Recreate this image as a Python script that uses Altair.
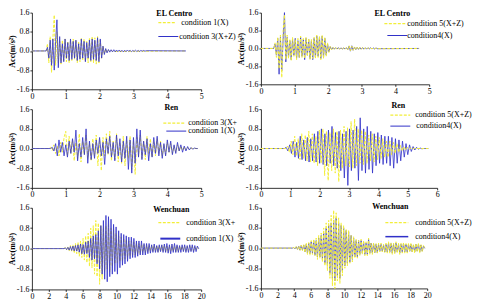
import altair as alt
import pandas as pd

FONT = "Liberation Serif"
YELLOW = "#f2ee38"
BLUE = "#3030c8"

# ---------------- data (acceleration, m/s^2) ----------------
# EL Centro, left: condition 1(X) yellow, condition 3(X+Z) blue
ec_l_t0, ec_l_dt, ec_l_end = 0.42, 0.04, 4.55
ec_l_yellow = [0.0, 0.3, -0.5, 0.6, -0.9, 0.5, 1.5, -0.6, 0.8, -0.5, 0.4, -0.55, 0.45, -0.4, 0.5, -0.45,
               0.4, -0.5, 0.45, -0.4, 0.5, -0.35, 0.45, -0.5, 0.4, -0.45, 0.55, -0.4, 0.5, -0.45, 0.4, -0.5,
               0.55, -0.45, 0.6, -0.5, 0.55, -0.55, 0.6, -0.5, 0.45, -0.3, 0.2, -0.12, 0.08, -0.05, 0.04,
               -0.03, 0.03, -0.02]
ec_l_blue = [0.0, 0.15, -0.3, 0.45, -0.6, 0.5, -0.8, 0.4, 1.3, -0.7, 0.6, -0.5, 0.3, -0.45, 0.5, -0.3, 0.35,
             -0.4, 0.5, -0.35, 0.4, -0.3, 0.45, -0.4, 0.3, -0.35, 0.5, -0.3, 0.4, -0.45, 0.35, -0.3, 0.45,
             -0.4, 0.5, -0.35, 0.45, -0.4, 0.55, -0.45, 0.5, -0.3, 0.2, -0.15, 0.1, -0.08, 0.06, -0.05, 0.05,
             -0.04, 0.05, -0.04, 0.04, -0.03, 0.04, -0.03, 0.03, -0.04, 0.03, -0.03, 0.04, -0.02, 0.03, -0.03,
             0.02, -0.02, 0.03, -0.02, 0.02, -0.02, 0.02, -0.01, 0.02, -0.01, 0.01]

# EL Centro, right: condition 5(X+Z) yellow, condition4(X) blue
ec_r_t0, ec_r_dt, ec_r_end = 0.38, 0.04, 4.7
ec_r_yellow = [0.0, 0.25, -0.4, 0.5, -0.9, 0.6, -1.3, 0.8, 1.5, -0.5, 0.6, -0.45, 0.4, -0.55, 0.5, -0.35, 0.4,
               -0.5, 0.45, -0.4, 0.55, -0.4, 0.45, -0.45, 0.5, -0.35, 0.45, -0.5, 0.4, -0.45, 0.5, -0.45, 0.6,
               -0.4, 0.55, -0.5, 0.6, -0.45, 0.5, -0.35, 0.25, -0.18, 0.1, -0.06, 0.05, -0.04, 0.04, -0.03,
               0.03, -0.03, 0.03, -0.02, 0.03, -0.03, 0.04, -0.06, 0.12, -0.1, 0.1, -0.08, 0.07, -0.06, 0.05,
               -0.05, 0.05, -0.04, 0.04, -0.03, 0.03, -0.03, 0.03, -0.02, 0.02, -0.02, 0.02, -0.02, 0.02, -0.01]
ec_r_blue = [0.0, 0.2, -0.3, 0.45, -1.15, 0.5, -1.0, 0.4, 1.6, -0.6, 0.5, -0.4, 0.35, -0.5, 0.4, -0.3, 0.45,
             -0.45, 0.35, -0.4, 0.5, -0.35, 0.4, -0.5, 0.45, -0.3, 0.4, -0.45, 0.35, -0.5, 0.45, -0.4, 0.55,
             -0.35, 0.5, -0.45, 0.55, -0.4, 0.45, -0.3, 0.2, -0.15, 0.08, -0.05, 0.04, -0.03, 0.03, -0.02,
             0.03, -0.02, 0.02, -0.02, 0.02, -0.02, 0.03, -0.05, 0.1, -0.12, 0.12, -0.08, 0.06, -0.05, 0.05,
             -0.04, 0.04, -0.03, 0.04, -0.03, 0.03, -0.03, 0.03, -0.02, 0.03, -0.02, 0.02, -0.02, 0.02, -0.01]

# Ren, left: condition 3(X+Z) yellow, condition 1(X) blue
ren_l_end = 4.9
ren_l_y_t0, ren_l_y_dt = 0.50, 0.05
ren_l_yellow = [0.0, 0.05, -0.08, 0.15, -0.2, 0.1, -0.3, 0.25, -0.15, 0.45, 0.7, -0.3, 0.5, -0.2, 0.35, -0.5,
                0.25, -0.4, 0.6, -0.55, 0.3, -0.25, 0.55, -0.4, 0.2, -0.5, 0.4, -0.3, 0.55, -0.7, 0.35, -0.9,
                0.45, -0.3, 0.6, -0.25, 0.7, -0.5, 0.3, -0.45, 0.6, -0.55, 0.25, -0.6, 0.5, -0.7, 0.35, -0.4,
                0.5, -0.85, 0.3, -1.05, 0.45, -0.3, 0.55, -0.4, 0.3, -0.45, 0.5, -0.2, 0.4, -0.35, 0.25,
                -0.3, 0.4, -0.2, 0.3, -0.3, 0.15, -0.25, 0.25, -0.15, 0.2, -0.2, 0.1, -0.15, 0.15, -0.1,
                0.1, -0.08, 0.07, -0.05, 0.04, -0.03, 0.02, 0.0]
ren_l_b_t0, ren_l_b_dt = 0.55, 0.05
ren_l_blue = [0.0, 0.05, -0.1, 0.2, -0.3, 0.35, -0.15, 0.25, -0.3, 0.15, -0.35, 0.3, -0.2, 0.4, -0.15, 0.75,
              -0.5, 0.2, -0.35, 0.45, -0.25, 0.8, -0.6, 0.3, -0.45, 0.2, -0.4, 0.35, -0.2, 0.45, -0.3, 0.25,
              -0.65, 0.4, -0.2, 0.5, -0.35, 0.25, -0.5, 0.55, -0.3, 0.4, -0.55, 0.3, -0.4, 0.5, -0.85, 0.35,
              -1.0, 0.45, -0.6, 0.8, -0.35, 0.75, -0.45, 0.3, -0.25, 0.4, -0.5, 0.2, -0.35, 0.45, -0.2, 0.5,
              -0.3, 0.25, -0.4, 0.2, -0.3, 0.35, -0.15, 0.3, -0.25, 0.15, -0.2, 0.25, -0.1, 0.15, -0.15, 0.1,
              -0.1, 0.08, -0.06, 0.04, -0.03, 0.02, 0.0]

# Ren, right: condition 5(X+Z) yellow, condition4(X) blue
ren_r_end = 5.7
ren_r_y_t0, ren_r_y_dt = 0.85, 0.06
ren_r_yellow = [0.0, 0.1, -0.15, 0.3, -0.25, 0.5, -0.3, 0.4, -0.45, 0.6, -0.4, 0.55, -0.5, 0.7, -0.55, 0.6,
                -0.6, 0.5, -0.7, 0.75, -0.6, 0.8, -1.1, 0.7, -1.3, 0.65, -0.9, 0.8, -1.0, 0.7, -1.35, 0.75,
                -0.8, 0.9, -0.7, 0.85, -0.75, 1.1, -0.8, 1.2, -0.7, 0.8, -0.6, 0.75, -0.65, 0.7, -0.6, 0.55,
                -0.5, 0.6, -0.55, 0.5, -0.45, 0.45, -0.4, 0.4, -0.35, 0.3, -0.35, 0.3, -0.25, 0.25, -0.2, 0.2,
                -0.15, 0.12, -0.1, 0.08, -0.06, 0.05, -0.04, 0.03, -0.02, 0.01, 0.0]
ren_r_b_t0, ren_r_b_dt = 0.80, 0.06
ren_r_blue = [0.0, 0.05, -0.1, 0.15, -0.2, 0.3, -0.35, 0.25, -0.4, 0.5, -0.45, 0.35, -0.5, 0.45, -0.55, 0.4,
              -0.5, 0.6, -0.55, 0.7, -0.6, 0.8, -0.65, 0.6, -0.7, 0.75, -0.6, 0.9, -0.7, 0.65, -0.8, 0.7, -0.9,
              0.6, -1.2, 0.7, -1.5, 0.8, -0.9, 0.75, -0.8, 0.9, -1.3, 1.25, -0.9, 0.8, -1.0, 0.9, -0.85, 0.7,
              -1.0, 0.6, -0.7, 0.65, -0.6, 0.55, -0.65, 0.5, -0.6, 0.5, -0.7, 0.45, -0.8, 0.4, -0.6, 0.35,
              -0.5, 0.3, -0.35, 0.2, -0.25, 0.15, -0.12, 0.08, -0.06, 0.05, -0.03, 0.02, -0.01, 0.0]

# Wenchuan, left: condition 3(X+Z) yellow, condition 1(X) blue
wc_t0, wc_dt, wc_end = 3.8, 0.15, 19.75
wc_l_yellow = [0.0, 0.04, -0.05, 0.08, -0.1, 0.12, -0.1, 0.15, -0.18, 0.2,
               -0.2, 0.25, -0.3, 0.3, -0.35, 0.4, -0.45, 0.5, -0.55, 0.6,
               -0.7, 0.8, -0.75, 0.9, -1.0, 1.1, -1.1, 1.0, -1.4, 0.9,
               -1.2, 0.8, -0.9, 0.9, -0.8, 1.0, -0.9, 0.8, -0.7, 0.75,
               -0.6, 0.6, -0.55, 0.5, -0.5, 0.45, -0.5, 0.4, -0.4, 0.35,
               -0.35, 0.3, -0.3, 0.3, -0.25, 0.25, -0.25, 0.2, -0.2, 0.2,
               -0.2, 0.18, -0.15, 0.15, -0.15, 0.12, -0.12, 0.12, -0.1, 0.12,
               -0.1, 0.12, -0.1, 0.1, -0.12, 0.1, -0.1, 0.12, -0.1, 0.12,
               -0.12, 0.1, -0.12, 0.1, -0.1, 0.12, -0.1, 0.1, -0.12, 0.1,
               -0.1, 0.1, -0.08, 0.1, -0.1, 0.08, -0.1, 0.08, -0.08, 0.1,
               -0.08, 0.08, -0.08, 0.06, -0.06, 0.05, 0.0]
wc_l_blue = [0.0, 0.03, -0.04, 0.05, -0.06, 0.08, -0.07, 0.1, -0.09, 0.12,
             -0.1, 0.15, -0.14, 0.18, -0.2, 0.16, -0.22, 0.25, -0.2, 0.3,
             -0.35, 0.4, -0.45, 0.5, -0.4, 0.55, -0.6, 0.7, -0.8, 0.9,
             -1.0, 1.1, -1.2, 1.3, -1.3, 1.25, -1.1, 1.15, -1.0, 0.95,
             -0.9, 0.85, -1.0, 0.7, -0.75, 0.6, -0.65, 0.55, -0.6, 0.5,
             -0.5, 0.45, -0.4, 0.45, -0.35, 0.4, -0.35, 0.3, -0.3, 0.3,
             -0.25, 0.3, -0.25, 0.2, -0.25, 0.2, -0.2, 0.2, -0.18, 0.15,
             -0.15, 0.18, -0.15, 0.12, -0.15, 0.15, -0.12, 0.15, -0.15, 0.18,
             -0.15, 0.2, -0.18, 0.15, -0.2, 0.18, -0.15, 0.2, -0.15, 0.15,
             -0.15, 0.12, -0.15, 0.15, -0.12, 0.15, -0.15, 0.12, -0.15, 0.15,
             -0.12, 0.15, -0.15, 0.12, -0.12, 0.1, 0.0]

# Wenchuan, right: condition 5(X+Z) yellow, condition4(X) blue
wc_r_yellow = [0.0, 0.03, -0.04, 0.06, -0.05, 0.08, -0.1, 0.12, -0.1, 0.15,
               -0.18, 0.2, -0.25, 0.22, -0.28, 0.3, -0.25, 0.35, -0.3, 0.4,
               -0.45, 0.5, -0.4, 0.6, -0.55, 0.8, -0.7, 1.0, -0.9, 1.1,
               -1.2, 1.3, -1.5, 1.5, -1.6, 1.4, -1.3, 1.2, -1.4, 1.0,
               -1.1, 0.9, -0.8, 0.75, -0.7, 0.7, -0.6, 0.5, -0.55, 0.45,
               -0.4, 0.35, -0.4, 0.3, -0.3, 0.35, -0.25, 0.3, -0.3, 0.25,
               -0.3, 0.4, -0.25, 0.2, -0.25, 0.2, -0.2, 0.18, -0.2, 0.2,
               -0.15, 0.2, -0.15, 0.15, -0.18, 0.2, -0.2, 0.25, -0.2, 0.22,
               -0.25, 0.2, -0.22, 0.25, -0.2, 0.2, -0.25, 0.2, -0.2, 0.22,
               -0.2, 0.18, -0.2, 0.2, -0.15, 0.2, -0.18, 0.15, -0.2, 0.18,
               -0.15, 0.2, -0.2, 0.15, -0.15, 0.1, 0.0]
wc_r_blue = [0.0, 0.02, -0.03, 0.05, -0.05, 0.07, -0.08, 0.1, -0.08, 0.12,
             -0.15, 0.15, -0.2, 0.2, -0.22, 0.25, -0.2, 0.3, -0.28, 0.3,
             -0.35, 0.4, -0.35, 0.5, -0.45, 0.6, -0.6, 0.8, -0.7, 0.9,
             -1.0, 1.0, -1.2, 1.1, -1.3, 1.2, -1.1, 1.0, -1.2, 0.9,
             -0.9, 0.8, -0.7, 0.7, -0.6, 0.65, -0.55, 0.5, -0.45, 0.4,
             -0.35, 0.3, -0.35, 0.3, -0.25, 0.3, -0.2, 0.25, -0.25, 0.2,
             -0.25, 0.35, -0.2, 0.2, -0.2, 0.18, -0.18, 0.15, -0.18, 0.15,
             -0.12, 0.15, -0.12, 0.12, -0.15, 0.15, -0.15, 0.2, -0.15, 0.18,
             -0.2, 0.15, -0.18, 0.2, -0.15, 0.15, -0.2, 0.15, -0.15, 0.18,
             -0.15, 0.15, -0.15, 0.15, -0.12, 0.15, -0.15, 0.12, -0.15, 0.15,
             -0.12, 0.15, -0.15, 0.12, -0.12, 0.08, 0.0]

Y_TICKS = [-1.6, -0.8, 0.0, 0.8, 1.6]
Y_LABEL_EXPR = "datum.value < 0 ? '-' + format(-datum.value, '.1f') : format(datum.value, '.1f')"


def series_df(t0, dt, vals, t_end):
    ts = [0.0] + [round(t0 + i * dt, 4) for i in range(len(vals))] + [t_end]
    vs = [0.0] + list(vals) + [0.0]
    return pd.DataFrame({"t": ts, "acc": vs})


ONE = pd.DataFrame({"k": [0]})


def panel(dfy, dfb, xmax, xstep, w, h, title, labels, leg, yellow_top, limit=0, blue_w=1.0):
    x = alt.X("t:Q", scale=alt.Scale(domain=[0, xmax], nice=False, zero=False),
              axis=alt.Axis(values=list(range(0, xmax + 1, xstep)), format="d", title=None))
    y = alt.Y("acc:Q", scale=alt.Scale(domain=[-1.6, 1.6], nice=False),
              axis=alt.Axis(values=Y_TICKS, labelExpr=Y_LABEL_EXPR, title="Acc(m/s²)"))
    yl = alt.Chart(dfy).mark_line(color=YELLOW, strokeDash=[3, 1.5], strokeWidth=1.0).encode(x=x, y=y)
    bl = alt.Chart(dfb).mark_line(color=BLUE, strokeWidth=0.8).encode(x=x, y=y)
    (tx, ty), (y1x1, y1x2, y1y, y1tx), (b1x1, b1x2, b1y, b1tx) = leg
    ttl = alt.Chart(ONE).mark_text(text=title, font=FONT, fontSize=8, fontWeight="bold",
                                   align="center", baseline="middle", color="black").encode(
        x=alt.value(tx), y=alt.value(ty))
    r1 = alt.Chart(ONE).mark_rule(color=YELLOW, strokeDash=[3, 1.5], strokeWidth=1.2).encode(
        x=alt.value(y1x1), x2=alt.value(y1x2), y=alt.value(y1y))
    r2 = alt.Chart(ONE).mark_rule(color=BLUE, strokeWidth=blue_w).encode(
        x=alt.value(b1x1), x2=alt.value(b1x2), y=alt.value(b1y))
    tkw = dict(font=FONT, fontSize=8, align="left", baseline="middle", color="black")
    if limit:
        tkw.update(limit=limit, ellipsis="\u200b")
    t1 = alt.Chart(ONE).mark_text(text=labels[0], **tkw).encode(x=alt.value(y1tx), y=alt.value(y1y))
    t2 = alt.Chart(ONE).mark_text(text=labels[1], **tkw).encode(x=alt.value(b1tx), y=alt.value(b1y))
    lines = [bl, yl] if yellow_top else [yl, bl]
    return alt.layer(*lines, ttl, r1, r2, t1, t2).properties(width=w, height=h)


p1 = panel(series_df(ec_l_t0, ec_l_dt, ec_l_yellow, ec_l_end), series_df(ec_l_t0, ec_l_dt, ec_l_blue, ec_l_end),
           5, 1, 170, 77, "EL Centro", ["condition 1(X)", "condition 3(X+Z)"],
           ((143, 1), (127, 145, 10, 150), (127, 147, 24, 148)), False, limit=60)
p2 = panel(series_df(ec_r_t0, ec_r_dt, ec_r_yellow, ec_r_end), series_df(ec_r_t0, ec_r_dt, ec_r_blue, ec_r_end),
           5, 1, 169, 72, "EL Centro", ["condition 5(X+Z)", "condition4(X)"],
           ((132, 1), (124, 145, 11, 147), (127, 147, 23, 147)), True)
p3 = panel(series_df(ren_l_y_t0, ren_l_y_dt, ren_l_yellow, ren_l_end),
           series_df(ren_l_b_t0, ren_l_b_dt, ren_l_blue, ren_l_end),
           5, 1, 170, 79, "Ren", ["condition 3(X+Z)", "condition 1(X)"],
           ((140, -1), (132, 154, 14, 157), (135, 155, 22, 157)), False, limit=50)
p4 = panel(series_df(ren_r_y_t0, ren_r_y_dt, ren_r_yellow, ren_r_end),
           series_df(ren_r_b_t0, ren_r_b_dt, ren_r_blue, ren_r_end),
           6, 1, 177, 79, "Ren", ["condition 5(X+Z)", "condition4(X)"],
           ((138, -3), (130, 150, 6, 155), (130, 150, 17, 156)), True)
p5 = panel(series_df(wc_t0, wc_dt, wc_l_yellow, wc_end), series_df(wc_t0, wc_dt, wc_l_blue, wc_end),
           20, 2, 170, 82, "Wenchuan", ["condition 3(X+Z)", "condition 1(X)"],
           ((140, 2), (127, 149, 15, 155), (129, 149, 31, 155)), False, limit=52, blue_w=2.0)
p6 = panel(series_df(wc_t0, wc_dt, wc_r_yellow, wc_end), series_df(wc_t0, wc_dt, wc_r_blue, wc_end),
           20, 2, 167, 81, "Wenchuan", ["condition 5(X+Z)", "condition4(X)"],
           ((130, -1), (125, 148, 15, 155), (125, 148, 29, 155)), True, blue_w=1.5)

chart = alt.concat(p1, p2, p3, p4, p5, p6, columns=2,
                   spacing=alt.RowColnumber(row=20, column=60),
                   bounds="flush", align="each").properties(
    padding={"left": 0, "top": 0, "right": 0, "bottom": 0}
).configure_view(strokeWidth=0).configure_axis(
    grid=False, domainColor="black", domainWidth=0.8, tickColor="black", tickWidth=0.8,
    tickSize=2, labelFont=FONT, labelFontSize=8, labelColor="black", labelPadding=1,
    titleFont=FONT, titleFontSize=8, titleFontWeight="bold", titleColor="black", titlePadding=0
).configure_axisX(labelFlush=False).configure_axisY(labelFlush=False)

chart.save("out.html", embed_options={"renderer": "svg", "actions": False})
